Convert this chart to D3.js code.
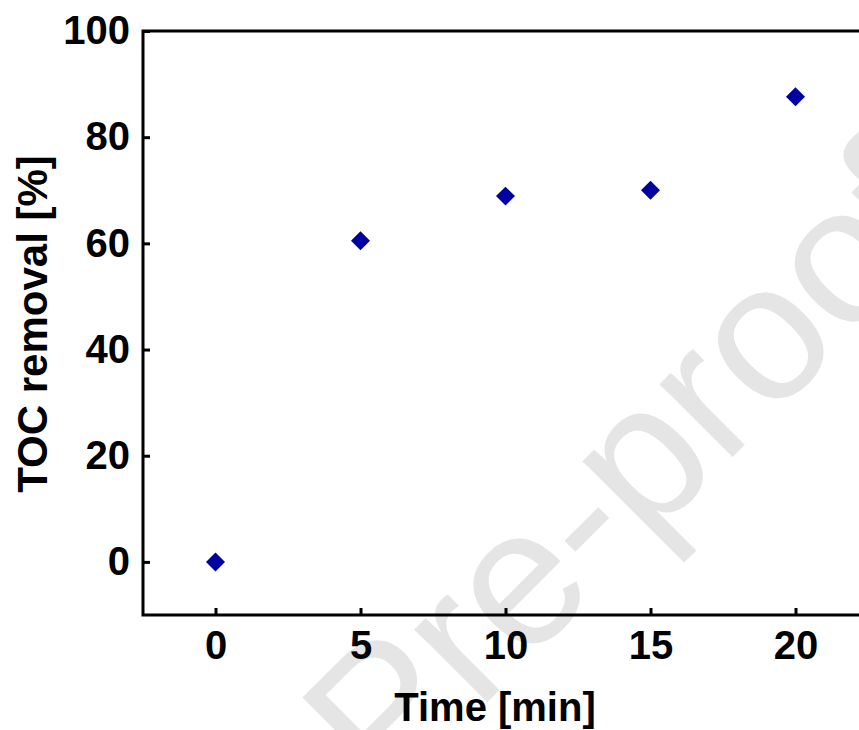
<!DOCTYPE html>
<html>
<head>
<meta charset="utf-8">
<script src="https://cdn.jsdelivr.net/npm/d3@7"></script>
<style>
  body { margin: 0; background: #fff; }
  svg { display: block; }
  text { font-family: "Liberation Sans", Arial, sans-serif; font-weight: bold; }
</style>
</head>
<body>
<div class="graph-container"></div>
<script>
// data
const times = [0, 5, 10, 15, 20];
const tocRemoval = [0, 60.5, 68.9, 70.0, 87.6];
const xTicks = [0, 5, 10, 15, 20];
const yTicks = [0, 20, 40, 60, 80, 100];
const xLabel = 'Time [min]';
const yLabel = 'TOC removal [%]';
const watermark = 'Pre-proof';

const width = 859, height = 730;
const margin = {left: 143, top: 31, right: -9, bottom: 115};
const plotWidth = width - margin.left - margin.right;
const plotHeight = height - margin.top - margin.bottom;

const svg = d3.select('.graph-container')
              .append('svg')
              .attr('width', width)
              .attr('height', height);

// watermark behind everything
svg.append('text')
   .attr('transform', 'translate(625,468) rotate(-45)')
   .attr('text-anchor', 'middle')
   .attr('dy', '0.35em')
   .style('font-weight', 'normal')
   .style('font-size', '195px')
   .attr('fill', '#e5e5e5')
   .text(watermark);

const panel = svg.append('g')
                 .attr('transform', `translate(${margin.left},${margin.top})`);

const xScale = d3.scaleLinear()
                 .domain([-2.5, 22.5])
                 .range([0, 29 * 25]);
const yScale = d3.scaleLinear()
                 .domain([-10, 100])
                 .range([plotHeight, 0]);

// frame
panel.append('rect')
     .attr('width', xScale(22.5))
     .attr('height', plotHeight)
     .attr('fill', 'none')
     .attr('stroke', '#000')
     .attr('stroke-width', 3);

const xAxis = d3.axisBottom(xScale)
                .tickValues(xTicks)
                .tickSize(-7)
                .tickPadding(16);
const yAxis = d3.axisLeft(yScale)
                .tickValues(yTicks)
                .tickSize(-7)
                .tickPadding(13);

const gx = panel.append('g')
                .attr('transform', `translate(0,${plotHeight})`)
                .call(xAxis);
const gy = panel.append('g')
                .call(yAxis);

[gx, gy].forEach(g => {
  g.select('.domain').remove();
  g.selectAll('line').attr('stroke', '#000').attr('stroke-width', 3);
  g.selectAll('text').attr('fill', '#000').style('font-size', '40px');
});

// points
panel.selectAll('.pt')
     .data(times)
     .enter()
     .append('path')
     .attr('class', 'pt')
     .attr('d', d3.symbol().type(d3.symbolSquare).size(180))
     .attr('transform', (d, i) => `translate(${xScale(d)},${yScale(tocRemoval[i])}) rotate(45)`)
     .attr('fill', '#0000a0');

// axis titles
svg.append('text')
   .attr('x', 495)
   .attr('y', 721)
   .attr('text-anchor', 'middle')
   .style('font-size', '40px')
   .text(xLabel);

svg.append('text')
   .attr('transform', 'translate(47,324) rotate(-90)')
   .attr('text-anchor', 'middle')
   .style('font-size', '42px')
   .text(yLabel);
</script>
</body>
</html>
